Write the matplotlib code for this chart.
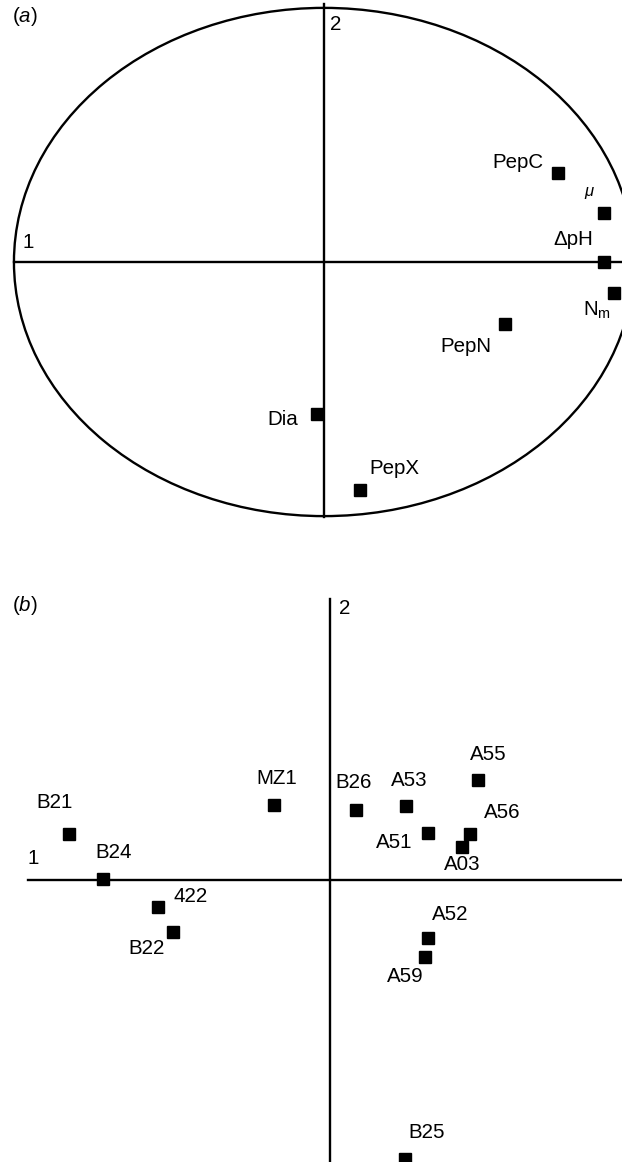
import matplotlib
matplotlib.use("Agg")
import matplotlib.pyplot as plt
from matplotlib.patches import Circle

plt.rcParams['font.family'] = ['Liberation Sans', 'DejaVu Sans']
plt.rcParams['mathtext.fontset'] = 'custom'
plt.rcParams['mathtext.rm'] = 'Liberation Sans'
plt.rcParams['mathtext.it'] = 'Liberation Sans:italic'

# -------------------- DATA --------------------

# (a) correlation circle: variable loadings on axes 1 and 2
var_names = ['PepC', r'$\mu$', 'ΔpH', r'N$_\mathregular{m}$', 'PepN', 'Dia', 'PepX']
var_x = [0.755, 0.903, 0.903, 0.935, 0.584, -0.023, 0.116]
var_y = [0.350, 0.193, 0.000, -0.122, -0.244, -0.598, -0.898]
# label offsets (pixels) from each marker
var_dx = [-40, -14, -31, -17, -39, -34, 34]
var_dy = [11, 20, 22, -17, -22, -6, 22]

# (b) strain scores on axes 1 and 2
strains = ['B21', 'B24', '422', 'B22', 'MZ1', 'B26', 'A53',
           'A55', 'A51', 'A56', 'A03', 'A52', 'A59', 'B25']
strain_x = [-2.61, -2.27, -1.72, -1.57, -0.56, 0.26, 0.76,
            1.48, 0.98, 1.40, 1.32, 0.98, 0.95, 0.75]
strain_y = [0.46, 0.01, -0.27, -0.52, 0.75, 0.70, 0.74,
            1.00, 0.47, 0.46, 0.33, -0.58, -0.77, -2.79]
strain_dx = [-14, 11, 33, -26, 3, -2, 3, 10, -34, 32, 0, 22, -20, 22]
strain_dy = [31, 27, 10, -16, 27, 28, 26, 25, -9, 21, -17, 24, -19, 26]

FS = 14.8
LW = 1.7

fig = plt.figure(figsize=(6.22, 11.62), dpi=100)

# -------------------- PANEL (a) --------------------
ax1 = fig.add_axes([0, 622 / 1162, 1, 540 / 1162])
ax1.set_xlim(-1.045, 0.961)
ax1.set_ylim(-1.094, 1.031)
ax1.axis('off')

ax1.add_patch(Circle((0, 0), 1.0, fill=False, lw=LW, color='black'))
ax1.plot([-1.0, 0.961], [0, 0], color='black', lw=LW)
ax1.plot([0, 0], [1.015, -1.004], color='black', lw=LW)

ax1.plot(var_x, var_y, 's', color='black', ms=8, clip_on=True)
for name, x, y, dx, dy in zip(var_names, var_x, var_y, var_dx, var_dy):
    ax1.annotate(name, (x, y), xytext=(dx, dy), textcoords='offset pixels',
                 ha='center', va='center', fontsize=FS if name != r'$\mu$' else 12)

ax1.text(0.039, 0.933, '2', fontsize=FS, ha='center', va='center')
ax1.text(-0.955, 0.075, '1', fontsize=FS, ha='center', va='center')

# -------------------- PANEL (b) --------------------
ax2 = fig.add_axes([0, 0, 1, 622 / 1162])
ax2.set_xlim(-3.30, 2.92)
ax2.set_ylim(-2.82, 3.40)
ax2.axis('off')

ax2.plot([-3.02, 2.92], [0, 0], color='black', lw=LW)
ax2.plot([0, 0], [2.81, -2.82], color='black', lw=LW)

ax2.plot(strain_x, strain_y, 's', color='black', ms=8)
for name, x, y, dx, dy in zip(strains, strain_x, strain_y, strain_dx, strain_dy):
    ax2.annotate(name, (x, y), xytext=(dx, dy), textcoords='offset pixels',
                 ha='center', va='center', fontsize=FS)

ax2.text(0.15, 2.71, '2', fontsize=FS, ha='center', va='center')
ax2.text(-2.97, 0.21, '1', fontsize=FS, ha='center', va='center')

# panel letters
fig.text(25 / 622, 1 - 17 / 1162, r'($\mathit{a}$)', fontsize=FS, ha='center', va='center')
fig.text(25 / 622, 1 - 606 / 1162, r'($\mathit{b}$)', fontsize=FS, ha='center', va='center')

fig.savefig('out.png', dpi=100)
